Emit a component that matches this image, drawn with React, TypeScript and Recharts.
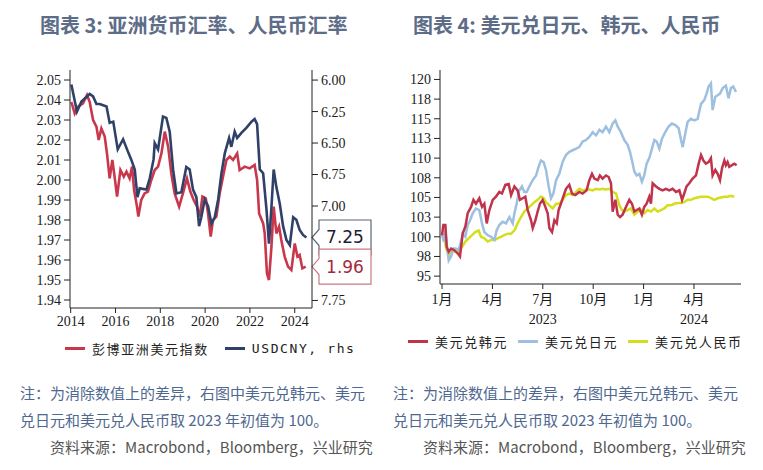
import { LineChart, Line, XAxis, YAxis, ReferenceLine } from 'recharts'

// 图表 3：彭博亚洲美元指数（左轴）与 USDCNY（右轴，倒序），[年份, 数值]
const asiaDollarIndex: [number, number][] = [
  [2014.03, 2.039], [2014.18, 2.0333], [2014.33, 2.0367], [2014.55, 2.0383], [2014.73, 2.0425],
  [2014.85, 2.039], [2015.0, 2.03], [2015.15, 2.0267], [2015.25, 2.02], [2015.37, 2.0258],
  [2015.52, 2.0217], [2015.62, 2.0133], [2015.74, 2.0008], [2015.86, 2.01], [2015.96, 2.0017],
  [2016.07, 1.9917], [2016.22, 2.005], [2016.37, 2.0017], [2016.49, 2.0042], [2016.63, 2.0008],
  [2016.74, 2.0067], [2016.83, 1.995], [2016.96, 1.9867], [2017.02, 1.9817], [2017.15, 1.99],
  [2017.3, 1.9933], [2017.45, 1.9942], [2017.6, 2.0], [2017.75, 2.005], [2017.9, 2.0067],
  [2018.05, 2.0133], [2018.2, 2.0242], [2018.35, 2.0167], [2018.49, 2.0033], [2018.64, 1.9933],
  [2018.84, 1.9867], [2019.01, 1.9933], [2019.19, 2.0008], [2019.34, 1.9942], [2019.49, 1.99],
  [2019.64, 1.9867], [2019.76, 1.9817], [2019.88, 1.9917], [2020.03, 1.9908], [2020.13, 1.9833],
  [2020.25, 1.9717], [2020.35, 1.98], [2020.5, 1.9817], [2020.65, 1.9933], [2020.8, 2.0017],
  [2020.95, 2.01], [2021.1, 2.0117], [2021.25, 2.01], [2021.43, 2.0133], [2021.54, 2.005],
  [2021.77, 2.0067], [2021.99, 2.0058], [2022.21, 2.0075], [2022.32, 2.0], [2022.41, 1.9833],
  [2022.59, 1.9783], [2022.66, 1.9733], [2022.76, 1.9533], [2022.85, 1.95], [2022.96, 1.9667],
  [2023.06, 1.9867], [2023.18, 1.9733], [2023.3, 1.9767], [2023.4, 1.97], [2023.55, 1.9617],
  [2023.7, 1.9567], [2023.85, 1.955], [2024.0, 1.9683], [2024.12, 1.9617], [2024.22, 1.9625],
  [2024.34, 1.9558], [2024.49, 1.9567],
]

const usdCny: [number, number][] = [
  [2014.03, 6.035], [2014.28, 6.25], [2014.48, 6.17], [2014.85, 6.11], [2015.0, 6.13],
  [2015.15, 6.19], [2015.3, 6.19], [2015.6, 6.21], [2015.74, 6.34], [2015.9, 6.33],
  [2016.1, 6.55], [2016.34, 6.47], [2016.56, 6.57], [2016.7, 6.63], [2016.86, 6.71],
  [2016.98, 6.93], [2017.08, 6.86], [2017.38, 6.87], [2017.53, 6.78], [2017.7, 6.63],
  [2017.75, 6.5], [2017.9, 6.55], [2018.12, 6.29], [2018.27, 6.3], [2018.42, 6.41],
  [2018.57, 6.71], [2018.72, 6.9], [2018.94, 6.89], [2019.16, 6.69], [2019.31, 6.71],
  [2019.46, 6.87], [2019.61, 6.93], [2019.73, 7.16], [2019.83, 7.09], [2019.98, 6.95],
  [2020.13, 7.0], [2020.28, 7.14], [2020.43, 7.09], [2020.58, 6.95], [2020.73, 6.74],
  [2020.88, 6.58], [2021.07, 6.46], [2021.17, 6.53], [2021.32, 6.41], [2021.43, 6.46],
  [2021.62, 6.42], [2021.84, 6.38], [2022.07, 6.33], [2022.21, 6.31], [2022.32, 6.35],
  [2022.44, 6.71], [2022.59, 6.74], [2022.74, 7.03], [2022.85, 7.3], [2022.96, 7.01],
  [2023.06, 6.71], [2023.18, 6.85], [2023.33, 6.98], [2023.48, 7.16], [2023.63, 7.27],
  [2023.78, 7.31], [2023.93, 7.09], [2024.07, 7.11], [2024.22, 7.19], [2024.37, 7.23],
  [2024.52, 7.25],
]

const yearTicks = [2014, 2016, 2018, 2020, 2022, 2024]
const indexTicks = [1.94, 1.95, 1.96, 1.97, 1.98, 1.99, 2.0, 2.01, 2.02, 2.03, 2.04, 2.05]
const cnyTicks = [6.0, 6.25, 6.5, 6.75, 7.0, 7.75]

// 图表 4：2023 年初 = 100，[距 2023-01 的月数, 数值]
const usdKrw: [number, number][] = [
  [0, 100.2], [0.08, 101.5], [0.2, 101.5], [0.28, 98.7], [0.4, 98.1], [0.54, 98.5], [0.73, 98.3],
  [0.93, 97.9], [1.07, 97.5], [1.23, 100.4], [1.39, 101.3], [1.53, 103], [1.73, 103.8], [1.87, 104.7],
  [2.02, 104.2], [2.22, 104.9], [2.38, 103.8], [2.52, 104.2], [2.66, 101.7], [2.82, 103.4], [3.02, 104.7],
  [3.21, 105.1], [3.41, 105.7], [3.57, 105.5], [3.77, 106.6], [3.97, 106.7], [4.11, 105.3], [4.31, 106.4],
  [4.5, 105.9], [4.64, 104.7], [4.8, 104.9], [4.96, 105.1], [5.1, 103.4], [5.3, 102.1], [5.4, 101.1],
  [5.56, 102.1], [5.69, 103.2], [5.83, 104.2], [5.99, 104.7], [6.15, 103.8], [6.29, 103], [6.39, 101.1],
  [6.55, 100.6], [6.69, 102.1], [6.83, 101.7], [6.94, 103.4], [7.08, 104.2], [7.22, 105.1], [7.38, 106.1],
  [7.58, 106.6], [7.74, 105.5], [7.94, 105.3], [8.17, 105.7], [8.37, 105.5], [8.61, 105.9], [8.77, 107.2],
  [8.93, 108], [9.07, 107.4], [9.27, 107.2], [9.4, 107.8], [9.56, 107.4], [9.76, 107.8], [9.92, 107.6],
  [10.06, 106.8], [10.16, 103.2], [10.32, 104.7], [10.46, 102.8], [10.6, 102.5], [10.75, 102.8],
  [10.95, 103.8], [11.15, 104.7], [11.31, 104.2], [11.45, 103.2], [11.59, 103.4], [11.75, 103.6],
  [11.9, 102.8], [12.04, 103.8], [12.18, 104.2], [12.34, 105.1], [12.44, 104.2], [12.54, 106.8],
  [12.74, 106.4], [12.94, 106.1], [13.13, 105.9], [13.33, 106.1], [13.53, 105.9], [13.73, 106.1],
  [13.93, 105.7], [14.13, 105.9], [14.29, 104.7], [14.42, 105.5], [14.56, 106.4], [14.72, 106.8],
  [14.92, 107.4], [15.12, 107.8], [15.28, 109.3], [15.42, 110.4], [15.56, 109.7], [15.71, 109.3],
  [15.87, 109.5], [16.01, 110], [16.11, 107.8], [16.27, 108.5], [16.41, 108], [16.55, 107.2],
  [16.67, 108.7], [16.81, 109.7], [16.9, 109.1], [17.0, 109.5], [17.1, 108.9], [17.4, 109.3], [17.54, 109.1],
]

const usdJpy: [number, number][] = [
  [0, 100.4], [0.1, 99.4], [0.2, 100.8], [0.3, 98.7], [0.4, 97.0], [0.54, 97.5], [0.67, 98.5],
  [0.83, 98.5], [0.99, 98.3], [1.13, 99.4], [1.23, 100.4], [1.39, 100], [1.53, 101.5], [1.67, 102.1],
  [1.83, 103], [2.02, 103.6], [2.22, 103.4], [2.38, 101.7], [2.52, 100.6], [2.72, 100.2], [2.92, 100],
  [3.12, 99.6], [3.25, 100.8], [3.41, 101.5], [3.61, 101.9], [3.81, 101.7], [4.01, 102.5], [4.21, 101.7],
  [4.31, 103], [4.44, 104.2], [4.6, 105.9], [4.76, 106.4], [4.9, 105.7], [5.04, 105.7], [5.2, 106.4],
  [5.4, 107.2], [5.6, 107.8], [5.75, 108.9], [5.89, 109.7], [6.05, 109.5], [6.19, 108.5], [6.35, 106.4],
  [6.49, 104.9], [6.63, 105.5], [6.79, 107.2], [6.98, 108], [7.18, 109.5], [7.38, 110.4], [7.58, 110.8],
  [7.78, 111], [7.98, 111.2], [8.17, 111.4], [8.37, 112.1], [8.57, 112.3], [8.77, 112.7], [8.97, 113.3],
  [9.17, 112.9], [9.37, 113.6], [9.56, 113.3], [9.76, 114], [9.96, 113.3], [10.16, 114.4], [10.32, 114.8],
  [10.46, 114], [10.65, 113.3], [10.85, 112.3], [11.05, 111.7], [11.19, 110.8], [11.31, 109.7],
  [11.45, 108.3], [11.59, 107.8], [11.75, 108], [11.9, 107], [12.04, 107.8], [12.18, 109.3], [12.34, 110],
  [12.5, 111.2], [12.64, 112.3], [12.78, 112.1], [12.94, 111.2], [13.1, 112.5], [13.29, 113.3],
  [13.49, 114], [13.69, 114.4], [13.89, 114.2], [14.09, 113.8], [14.23, 112.3], [14.33, 111.4],
  [14.48, 113.1], [14.62, 114.6], [14.82, 115], [15.02, 114.8], [15.22, 115], [15.42, 116.9],
  [15.62, 117.4], [15.75, 118.2], [15.87, 119.1], [16.01, 119.5], [16.11, 116.1], [16.27, 117.8],
  [16.41, 118], [16.55, 118.2], [16.71, 118.9], [16.9, 119.2], [17.06, 117.6], [17.2, 118.9],
  [17.34, 119.1], [17.5, 118.4],
]

const usdCnyIdx: [number, number][] = [
  [0, 100.2], [0.14, 99.6], [0.28, 98.3], [0.44, 97.5], [0.6, 98.3], [0.79, 98.1], [0.99, 98.1],
  [1.19, 98.7], [1.39, 99.4], [1.59, 99.8], [1.79, 100.2], [1.98, 100.6], [2.18, 100.8], [2.32, 100],
  [2.52, 99.8], [2.72, 99.4], [2.92, 99.6], [3.12, 99.6], [3.31, 99.8], [3.51, 100], [3.71, 100.2],
  [3.91, 100.4], [4.11, 100.4], [4.31, 100.8], [4.5, 101.7], [4.7, 102.5], [4.9, 103.2], [5.1, 103.6],
  [5.3, 104], [5.5, 104.4], [5.69, 104.7], [5.89, 105.1], [6.05, 104.9], [6.19, 104.4], [6.39, 104],
  [6.59, 103.6], [6.79, 104.2], [6.98, 104.2], [7.18, 104.7], [7.38, 105.3], [7.58, 105.5], [7.78, 105.3],
  [7.98, 105.7], [8.17, 106.1], [8.37, 105.9], [8.57, 106], [8.77, 106], [8.97, 105.9], [9.17, 106.1],
  [9.37, 106], [9.56, 106.1], [9.76, 106], [9.96, 106.1], [10.16, 105.7], [10.36, 105.5], [10.56, 104],
  [10.71, 103.4], [10.85, 103.2], [11.05, 103.4], [11.25, 103.6], [11.45, 102.8], [11.65, 103.2],
  [11.85, 103.4], [12.04, 103], [12.24, 103.4], [12.44, 103.2], [12.64, 103.6], [12.84, 103.2],
  [13.04, 103.4], [13.23, 103.6], [13.43, 104], [13.63, 104], [13.83, 104.2], [14.03, 104.3],
  [14.23, 104.3], [14.42, 104.4], [14.62, 104.7], [14.82, 104.7], [15.02, 104.9], [15.22, 105],
  [15.42, 105.1], [15.62, 105.1], [15.81, 105.1], [16.01, 104.9], [16.21, 104.7], [16.41, 104.9],
  [16.61, 105], [16.81, 105.1], [17.0, 105.1], [17.2, 105.2], [17.4, 105.1],
]

const monthTicks = [0, 3, 6, 9, 12, 15]
const monthLabels = ['1月', '4月', '7月', '10月', '1月', '4月']
const yearLabels = ['', '', '2023', '', '', '2024']
const rebasedTicks = [95, 97.5, 100, 102.5, 105, 107.5, 110, 112.5, 115, 117.5, 120]

const toRows = (pairs: [number, number][]) => pairs.map(([t, v]) => ({ t, v }))

const RED = '#c8374c'
const NAVY = '#2f4168'
const KRW_RED = '#c0344b'
const JPY_BLUE = '#9ebfe0'
const CNY_YELLOW = '#d3df1c'

const tickStyle = { fill: '#1a1a1a', fontSize: 14, fontFamily: '"Liberation Serif", serif' }
const legendFont = '"DejaVu Sans Mono", "Noto Sans CJK SC", monospace'

function EndTag({ viewBox, text, color, textColor }: any) {
  if (!viewBox) return null
  const tipX = viewBox.x + viewBox.width
  const y = viewBox.y
  const bx = tipX + 7
  const w = 52
  const h = 35
  const top = y - h / 2
  const d = `M${tipX},${y} L${bx},${y - 8} L${bx},${top} L${bx + w},${top} L${bx + w},${top + h} L${bx},${top + h} L${bx},${y + 8} Z`
  return (
    <g>
      <path d={d} fill="#fff" stroke={color} strokeWidth={1.2} />
      <text x={bx + w / 2} y={y + 6} textAnchor="middle" fontSize={17} fontFamily="DejaVu Sans, sans-serif" fill={textColor}>
        {text}
      </text>
    </g>
  )
}

function MonthTick({ x, y, payload }: any) {
  const i = monthTicks.indexOf(payload.value)
  return (
    <g>
      <text x={x} y={y + 13} textAnchor="middle" {...tickStyle} fontFamily='"Liberation Serif", "Noto Sans CJK SC", serif'>
        {monthLabels[i]}
      </text>
      {yearLabels[i] && (
        <text x={x} y={y + 33} textAnchor="middle" {...tickStyle}>
          {yearLabels[i]}
        </text>
      )}
    </g>
  )
}

function LegendItem({ color, label }: { color: string; label: string }) {
  return (
    <span style={{ display: 'inline-flex', alignItems: 'center', marginRight: 10 }}>
      <span style={{ display: 'inline-block', width: 20, height: 3, background: color, marginRight: 7 }} />
      <span style={{ fontFamily: legendFont, fontSize: 13, letterSpacing: 1.6, color: '#222' }}>{label}</span>
    </span>
  )
}

export default function App() {
  const asiaRows = toRows(asiaDollarIndex)
  const cnyRows = toRows(usdCny)
  const lastAsia = asiaDollarIndex[asiaDollarIndex.length - 1][1]
  const lastCny = usdCny[usdCny.length - 1][1]

  const titleStyle: React.CSSProperties = {
    position: 'absolute', top: 11, fontSize: 20, fontWeight: 700, color: '#5d6c87',
    fontFamily: '"Noto Sans CJK SC", sans-serif', lineHeight: '28px', whiteSpace: 'nowrap',
  }
  const noteStyle: React.CSSProperties = {
    position: 'absolute', fontSize: 15, color: '#4f6890', lineHeight: '27px',
    fontFamily: '"Noto Sans CJK SC", sans-serif', whiteSpace: 'nowrap',
  }
  const sourceStyle: React.CSSProperties = { ...noteStyle, color: '#555' }

  return (
    <div style={{ position: 'absolute', left: 0, top: 0, width: 763, height: 470, background: '#fff', overflow: 'hidden' }}>
      <div style={{ ...titleStyle, left: 40 }}>图表 3: 亚洲货币汇率、人民币汇率</div>
      <div style={{ ...titleStyle, left: 413 }}>图表 4: 美元兑日元、韩元、人民币</div>

      <div style={{ position: 'absolute', left: 0, top: 0 }}>
        <LineChart width={380} height={360} margin={{ top: 70, right: 18, bottom: 22, left: 20 }}>
          <XAxis
            dataKey="t"
            type="number"
            domain={[2013.97, 2024.77]}
            ticks={yearTicks}
            interval={0}
            allowDataOverflow
            tick={tickStyle}
            tickSize={5}
            tickMargin={3}
            height={30}
            axisLine={{ stroke: '#222' }}
            tickLine={{ stroke: '#222' }}
          />
          <YAxis
            yAxisId="left"
            domain={[1.936, 2.055]}
            ticks={indexTicks}
            interval={0}
            allowDataOverflow
            width={50}
            tick={tickStyle}
            tickSize={6}
            tickMargin={3}
            tickFormatter={(v) => v.toFixed(2)}
            axisLine={{ stroke: '#222' }}
            tickLine={{ stroke: '#222' }}
          />
          <YAxis
            yAxisId="right"
            orientation="right"
            reversed
            domain={[5.92, 7.81]}
            ticks={cnyTicks}
            interval={0}
            allowDataOverflow
            width={50}
            tick={tickStyle}
            tickSize={6}
            tickMargin={3}
            tickFormatter={(v) => v.toFixed(2)}
            axisLine={{ stroke: '#222' }}
            tickLine={{ stroke: '#222' }}
          />
          <Line yAxisId="left" data={asiaRows} dataKey="v" stroke={RED} strokeWidth={2.6} dot={false} isAnimationActive={false} />
          <Line yAxisId="right" data={cnyRows} dataKey="v" stroke={NAVY} strokeWidth={2.6} dot={false} isAnimationActive={false} />
          <ReferenceLine
            yAxisId="right"
            y={lastCny}
            stroke="none"
            label={{ content: (p: any) => <EndTag viewBox={p.viewBox} text={lastCny.toFixed(2)} color="#5b6579" textColor="#1c2233" /> }}
          />
          <ReferenceLine
            yAxisId="left"
            y={lastAsia}
            stroke="none"
            label={{ content: (p: any) => <EndTag viewBox={p.viewBox} text={lastAsia.toFixed(2)} color="#c77a86" textColor="#a32a3d" /> }}
          />
        </LineChart>
      </div>
      <div style={{ position: 'absolute', left: 65, top: 339, display: 'flex', whiteSpace: 'nowrap' }}>
        <LegendItem color={RED} label="彭博亚洲美元指数" />
        <span style={{ width: 6 }} />
        <LegendItem color={NAVY} label="USDCNY, rhs" />
      </div>

      <div style={{ position: 'absolute', left: 383, top: 0 }}>
        <LineChart width={380} height={360} margin={{ top: 70, right: 22, bottom: 26, left: 7 }}>
          <XAxis
            dataKey="t"
            type="number"
            domain={[-0.12, 17.8]}
            ticks={monthTicks}
            interval={0}
            allowDataOverflow
            tick={<MonthTick />}
            tickSize={5}
            height={50}
            axisLine={{ stroke: '#222' }}
            tickLine={{ stroke: '#222' }}
          />
          <YAxis
            domain={[94, 121.2]}
            ticks={rebasedTicks}
            interval={0}
            allowDataOverflow
            width={50}
            tick={tickStyle}
            tickSize={6}
            tickMargin={3}
            tickFormatter={(v) => String(Math.round(v))}
            axisLine={{ stroke: '#222' }}
            tickLine={{ stroke: '#222' }}
          />
          <Line data={toRows(usdCnyIdx)} dataKey="v" stroke={CNY_YELLOW} strokeWidth={2.5} dot={false} isAnimationActive={false} />
          <Line data={toRows(usdJpy)} dataKey="v" stroke={JPY_BLUE} strokeWidth={2.5} dot={false} isAnimationActive={false} />
          <Line data={toRows(usdKrw)} dataKey="v" stroke={KRW_RED} strokeWidth={2.5} dot={false} isAnimationActive={false} />
        </LineChart>
      </div>
      <div style={{ position: 'absolute', left: 408, top: 332, display: 'flex', whiteSpace: 'nowrap' }}>
        <LegendItem color={KRW_RED} label="美元兑韩元" />
        <LegendItem color={JPY_BLUE} label="美元兑日元" />
        <LegendItem color={CNY_YELLOW} label="美元兑人民币" />
      </div>

      <div style={{ ...noteStyle, left: 20, top: 379 }}>
        注：为消除数值上的差异，右图中美元兑韩元、美元<br />兑日元和美元兑人民币取 2023 年初值为 100。
      </div>
      <div style={{ ...sourceStyle, left: 50, top: 433 }}>资料来源：Macrobond，Bloomberg，兴业研究</div>
      <div style={{ ...noteStyle, left: 393, top: 379 }}>
        注：为消除数值上的差异，右图中美元兑韩元、美元<br />兑日元和美元兑人民币取 2023 年初值为 100。
      </div>
      <div style={{ ...sourceStyle, left: 423, top: 433 }}>资料来源：Macrobond，Bloomberg，兴业研究</div>
    </div>
  )
}
